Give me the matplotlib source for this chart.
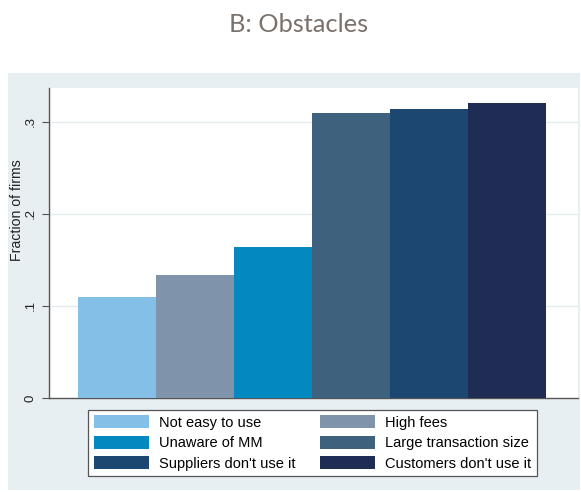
import matplotlib
matplotlib.use("Agg")
import matplotlib.pyplot as plt
from matplotlib.patches import Patch

categories = ["Not easy to use", "High fees", "Unaware of MM",
              "Large transaction size", "Suppliers don't use it", "Customers don't use it"]
values = [0.110, 0.133, 0.164, 0.3095, 0.3132, 0.320]
colors = ["#84bfe8", "#7f93aa", "#0389bf", "#3e627e", "#1c4770", "#1f2c53"]
yticks = [0, 0.1, 0.2, 0.3]
yticklabels = ["0", ".1", ".2", ".3"]

W, H = 581, 492
fig = plt.figure(figsize=(W / 100, H / 100), dpi=100)
fig.patch.set_facecolor("white")

# Stata graph region
bg = fig.add_axes([8 / W, 2 / H, (580 - 8) / W, (492 - 73 - 2) / H], zorder=-5)
bg.set_facecolor("#e8eff2")
bg.set_xticks([]); bg.set_yticks([])
for s in bg.spines.values():
    s.set_visible(False)

fig.text(299 / W, 1 - 25 / H, "B: Obstacles", ha="center", va="center",
         fontsize=18.3, color="#7a716b", family="Lato")

ax = fig.add_axes([49 / W, (492 - 398) / H, (578 - 49) / W, (398 - 88) / H])
ax.set_facecolor("white")
for i, (v, c) in enumerate(zip(values, colors)):
    ax.bar(i, v, width=1.0, align="edge", color=c, edgecolor="none", zorder=3)

ax.set_xlim(-0.372, 6.41)
ax.set_ylim(0, 0.3365)
ax.set_yticks(yticks)
ax.set_yticklabels(yticklabels, rotation=90, va="center", family="Liberation Sans",
                   fontsize=9.5, color="#222222")
ax.set_xticks([])
for yt in yticks[1:]:
    ax.axhline(yt, color="#e3ecef", lw=1.0, zorder=1)
for s in ["top", "right"]:
    ax.spines[s].set_visible(False)
ax.spines["left"].set_color("#555555")
ax.spines["bottom"].set_color("#555555")
ax.spines["left"].set_linewidth(1.0)
ax.spines["bottom"].set_linewidth(1.0)
ax.tick_params(axis="y", direction="out", length=5, color="#555555", pad=4)
ax.set_ylabel("Fraction of firms", family="Liberation Sans", fontsize=10.2,
              color="#222222", va="center")
ax.yaxis.set_label_coords((17 - 49) / 529, (398 - 210) / 310)

order = [0, 2, 4, 1, 3, 5]
handles = [Patch(facecolor=colors[i], edgecolor="none") for i in order]
labels = [categories[i] for i in order]
leg = fig.legend(handles, labels, ncol=2, loc="center",
                 bbox_to_anchor=((86 + 539) / 2 / W, 1 - 443 / H),
                 frameon=True, fancybox=False, framealpha=1,
                 prop={"family": "Liberation Sans", "size": 10.5},
                 handlelength=3.75, handleheight=1.0, columnspacing=1.7,
                 labelspacing=0.4, borderpad=0.4, handletextpad=0.7)
leg.get_frame().set_edgecolor("#555555")
leg.get_frame().set_linewidth(0.9)
leg.get_frame().set_facecolor("white")

fig.savefig("out.png", dpi=100, facecolor="white")
